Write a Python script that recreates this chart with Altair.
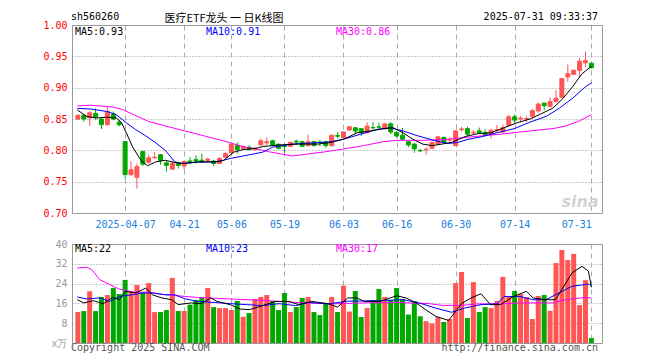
import altair as alt
import pandas as pd
import numpy as np

# ---------------- data (trading-day index 0..87 : 2025-03-25 .. 2025-07-31) ----------------
OPEN = [0.850, 0.856, 0.852, 0.859, 0.850, 0.841, 0.858, 0.845, 0.814, 0.761,
        0.757, 0.798, 0.781, 0.788, 0.793, 0.780, 0.770, 0.780, 0.775, 0.783,
        0.785, 0.7842, 0.784, 0.783, 0.779, 0.789, 0.796, 0.8075, 0.803, 0.805,
        0.801, 0.8086, 0.812, 0.8153, 0.8096, 0.8075, 0.8065, 0.8145, 0.8137, 0.8075,
        0.8137, 0.8132, 0.8137, 0.8075, 0.8236, 0.8205, 0.8324, 0.836, 0.8345, 0.8282,
        0.8365, 0.8376, 0.8345, 0.8422, 0.8282, 0.8241, 0.8137, 0.810, 0.7998, 0.8008,
        0.8034, 0.810, 0.8205, 0.8165, 0.8075, 0.8331, 0.8346, 0.8279, 0.831, 0.8284,
        0.8258, 0.832, 0.8294, 0.8399, 0.8534, 0.850, 0.8498, 0.8545, 0.8628, 0.8754,
        0.8701, 0.878, 0.8847, 0.9171, 0.9213, 0.9276, 0.9396, 0.939]
CLOSE = [0.856, 0.850, 0.860, 0.853, 0.841, 0.862, 0.850, 0.841, 0.7615, 0.769,
         0.774, 0.778, 0.788, 0.789, 0.784, 0.776, 0.779, 0.776, 0.782, 0.781,
         0.783, 0.7816, 0.786, 0.779, 0.787, 0.7946, 0.810, 0.8013, 0.806, 0.8013,
         0.8033, 0.8153, 0.8137, 0.8086, 0.8034, 0.806, 0.8127, 0.8132, 0.8065, 0.8137,
         0.8075, 0.8122, 0.8075, 0.8241, 0.8225, 0.8293, 0.8376, 0.8308, 0.8282, 0.8386,
         0.836, 0.837, 0.8422, 0.8293, 0.823, 0.8179, 0.8086, 0.8023, 0.7992, 0.8018,
         0.8127, 0.8215, 0.8127, 0.8175, 0.831, 0.8341, 0.8258, 0.8289, 0.8284, 0.8242,
         0.832, 0.833, 0.8362, 0.8534, 0.8482, 0.8513, 0.8508, 0.8633, 0.8738, 0.8712,
         0.878, 0.8832, 0.9145, 0.9223, 0.9276, 0.9422, 0.9432, 0.9317]
HIGH = [0.857, 0.857, 0.862, 0.867, 0.851, 0.869, 0.862, 0.849, 0.814, 0.783,
        0.779, 0.799, 0.793, 0.797, 0.794, 0.783, 0.783, 0.781, 0.784, 0.789,
        0.792, 0.7946, 0.788, 0.785, 0.789, 0.797, 0.811, 0.8127, 0.807, 0.808,
        0.805, 0.819, 0.8205, 0.817, 0.811, 0.809, 0.814, 0.8168, 0.815, 0.8251,
        0.815, 0.8163, 0.815, 0.825, 0.8293, 0.830, 0.838, 0.837, 0.835, 0.8448,
        0.8448, 0.8438, 0.843, 0.8448, 0.8308, 0.836, 0.815, 0.811, 0.8023, 0.8049,
        0.8135, 0.8225, 0.822, 0.8205, 0.832, 0.8373, 0.8378, 0.8325, 0.8362, 0.8336,
        0.8346, 0.8404, 0.8414, 0.857, 0.857, 0.8545, 0.8545, 0.866, 0.8764, 0.8756,
        0.8842, 0.8962, 0.915, 0.937, 0.9291, 0.9474, 0.9578, 0.940]
LOW = [0.848, 0.846, 0.839, 0.849, 0.834, 0.839, 0.848, 0.838, 0.755, 0.760,
       0.739, 0.775, 0.779, 0.787, 0.777, 0.766, 0.769, 0.771, 0.769, 0.778,
       0.779, 0.780, 0.781, 0.775, 0.778, 0.788, 0.795, 0.795, 0.801, 0.7995,
       0.800, 0.808, 0.8075, 0.807, 0.8013, 0.796, 0.805, 0.8086, 0.805, 0.806,
       0.8065, 0.8065, 0.804, 0.806, 0.819, 0.819, 0.831, 0.8257, 0.823, 0.827,
       0.8308, 0.8324, 0.833, 0.8257, 0.820, 0.8153, 0.805, 0.7961, 0.797, 0.793,
       0.802, 0.809, 0.811, 0.810, 0.8065, 0.8294, 0.8232, 0.8247, 0.8273, 0.8221,
       0.819, 0.8284, 0.8273, 0.8388, 0.843, 0.8451, 0.8451, 0.8508, 0.8597, 0.8639,
       0.8691, 0.8764, 0.8832, 0.9093, 0.9197, 0.9155, 0.9328, 0.9307]
VOLUME = [12.5, 12.9, 20.9, 12.9, 18.6, 19.4, 22.2, 19.8, 25.5, 20.9,
          23.4, 20.5, 24.2, 12.5, 12.5, 13.3, 26.3, 12.9, 12.9, 15.5,
          17.4, 18.6, 22.2, 14.5, 14.1, 14.1, 13.3, 17.0, 10.6, 12.1,
          17.8, 18.6, 19.4, 17.0, 13.3, 20.2, 12.5, 14.5, 18.2, 18.6,
          12.5, 11.3, 15.8, 18.6, 12.5, 23.2, 12.7, 21.0, 10.5, 14.1,
          17.4, 21.8, 18.6, 17.4, 22.2, 17.8, 11.5, 17.0, 10.8, 8.8,
          7.9, 10.4, 8.5, 9.7, 24.2, 28.7, 10.1, 24.6, 12.5, 14.5,
          14.1, 17.0, 26.7, 19.0, 21.0, 19.8, 18.5, 9.7, 19.0, 19.4,
          13.0, 32.3, 37.6, 33.5, 36.0, 15.3, 25.4, 2.0]

# moving-average lines (x = trading-day index)
PMA5_X = [-0.1, 1.5, 3.2, 4.9, 6.5, 7.4, 8.2, 9.3, 10.7, 11.8, 13.2, 14.8, 16.4, 18.1, 20.3, 23.1,
          24.7, 26.4, 28, 30.2, 31.3, 34.1, 37.4, 40.7, 42.9, 45.1, 47.3, 49.6, 51.8, 53.4, 55.1,
          56.7, 58.4, 60, 61.7, 63.3, 65.6, 67.8, 70, 72.2, 74.4, 76.6, 78.8, 80.5, 82.2, 83.8,
          85.4, 86.8, 87]
PMA5_Y = [0.8645, 0.854, 0.8516, 0.853, 0.8516, 0.844, 0.828, 0.8049, 0.784, 0.7754, 0.7816, 0.7842,
          0.7806, 0.779, 0.7816, 0.7816, 0.784, 0.797, 0.8013, 0.8033, 0.806, 0.8086, 0.81, 0.81,
          0.8127, 0.818, 0.828, 0.831, 0.8345, 0.836, 0.828, 0.818, 0.81, 0.8075, 0.81, 0.8126,
          0.822, 0.8267, 0.828, 0.836, 0.844, 0.85, 0.8597, 0.8675, 0.883, 0.9014, 0.922, 0.9327,
          0.9334]
PMA10_X = [-0.1, 2.1, 4.9, 6.5, 8.2, 9.8, 11.5, 13.1, 14.8, 16.4, 17.3, 20.3, 23.6, 25.8, 28, 31.3,
           33, 36.3, 39.6, 42.9, 45.1, 47.9, 50.7, 52.9, 55.1, 57.3, 59.5, 61.7, 62.8, 64.4, 66.1,
           68.3, 71.1, 73.9, 76.6, 79.4, 81.6, 83.8, 86, 87]
PMA10_Y = [0.867, 0.866, 0.862, 0.857, 0.844, 0.833, 0.823, 0.8127, 0.80, 0.782, 0.779, 0.781,
           0.7816, 0.787, 0.791, 0.797, 0.805, 0.81, 0.8117, 0.8137, 0.818, 0.8257, 0.8334, 0.836,
           0.831, 0.824, 0.818, 0.8127, 0.811, 0.8126, 0.8175, 0.8215, 0.8283, 0.8345, 0.845,
           0.8544, 0.8675, 0.883, 0.9014, 0.9077]
PMA30_X = [-0.1, 2.1, 6, 7.6, 12, 14.8, 18.1, 21.4, 24.7, 25.8, 28, 31.3, 32.5, 36.3, 41.8, 45.1,
           48.4, 51.7, 53.9, 58.3, 62, 66.7, 71.6, 76.6, 80.5, 82.7, 84.9, 87]
PMA30_Y = [0.871, 0.872, 0.869, 0.865, 0.846, 0.839, 0.831, 0.823, 0.815, 0.812, 0.806, 0.80,
           0.7975, 0.791, 0.7975, 0.8023, 0.8075, 0.8137, 0.816, 0.816, 0.817, 0.8216, 0.8258,
           0.831, 0.8347, 0.839, 0.8466, 0.857]

VMA5_X = [-0.1, 1, 2.6, 4.3, 5.9, 7, 8.1, 9.8, 11.5, 12.6, 14.2, 15.9, 17, 19.2, 20.9, 22.5, 23.6,
          25.8, 27.5, 29.1, 31.3, 33.5, 35.8, 37.4, 39.6, 42.4, 44, 45.7, 47.3, 48.5, 51.2, 54,
          55.6, 57.3, 58.9, 60.6, 62.8, 65, 66.6, 68.3, 69.9, 71.6, 73.8, 76, 77.1, 79.3, 80.9,
          82, 83.7, 85.4, 86.5, 87]
VMA5_Y = [17.5, 16.2, 17.1, 15.9, 18.4, 17.5, 20.9, 20.2, 22.2, 19.5, 18.2, 17.5, 15.5, 16.2, 15.9,
          18.2, 16.8, 15.5, 13.7, 13.5, 15.1, 16.8, 16.8, 15.5, 16.8, 15.9, 14.5, 18.2, 18.2, 16.8,
          16.8, 19.1, 18.2, 16.2, 13.5, 10.8, 9.1, 15.9, 18.2, 19.9, 15.5, 15.5, 18.8, 20.9, 18.2,
          17.5, 17.5, 21.6, 28.3, 31.0, 29.0, 22.5]
VMA10_X = [-0.1, 1.5, 3.7, 5.4, 7, 9.3, 10.9, 12.6, 14.8, 16.4, 18.1, 20.3, 23.1, 25.8, 28.6, 31.3,
           34.1, 36.9, 39.1, 42.4, 45.7, 51.2, 55.1, 57.8, 60.6, 63.3, 65.5, 68.3, 71, 72.2, 74.9,
           77.1, 79.3, 81.5, 83.7, 86.5, 87]
VMA10_Y = [18.6, 17.8, 18.2, 16.8, 18.8, 19.5, 20.2, 20.2, 19.5, 19.5, 17.9, 16.8, 16.4, 15.9,
           15.5, 15.1, 15.9, 15.1, 16.4, 15.8, 16.9, 17.1, 17.5, 16.2, 14.1, 12.4, 14.1, 15.5, 15.8,
           18.8, 18.8, 17.5, 17.5, 20.2, 22.9, 23.8, 23.2]
VMA30_X = [-0.1, 1.5, 2.4, 3.7, 5.4, 7, 9.3, 12, 14.8, 20.3, 25.8, 31.3, 36.9, 42.9, 48.5, 54, 59.5,
           61.7, 65, 67.7, 71.6, 74.9, 80.4, 82.6, 85.9, 87]
VMA30_Y = [30.3, 30.6, 29.6, 25.6, 23.6, 21.8, 20.6, 20.5, 19.5, 18.4, 17.8, 17.2, 16.4, 15.8, 16.2,
           16.4, 15.9, 15.2, 15.2, 15.8, 15.8, 16.2, 16.2, 17.5, 18.4, 18.2]

TICK_IDX = [8, 18, 26, 35, 45, 54, 64, 74, 87]
TICK_LABELS = ["2025-04-07", "04-21", "05-06", "05-19", "06-03", "06-16", "06-30", "07-14", "07-31"]
PRICE_TICKS = [0.70, 0.75, 0.80, 0.85, 0.90, 0.95, 1.00]
VOL_TICKS = [0, 8, 16, 24, 32, 40]

PRICE_MA_LABELS = ["MA5:0.93", "MA10:0.91", "MA30:0.86"]
VOL_MA_LABELS = ["MA5:22", "MA10:23", "MA30:17"]
CODE = "sh560260"
TITLE = "医疗ETF龙头 一 日K线图"
STAMP = "2025-07-31 09:33:37"
FOOT_LEFT = "Copyright 2025 SINA.COM"
FOOT_RIGHT = "http://finance.sina.com.cn"

# ---------------- styling ----------------
RED = "#ff5555"
GREEN = "#00a800"
MA_COLORS = ["#000000", "#0000ff", "#ff00ff"]
MONO = "DejaVu Sans Mono"
W, HP, HV = 530, 188, 99

df = pd.DataFrame({"idx": list(range(len(CLOSE))), "open": OPEN, "high": HIGH,
                   "low": LOW, "close": CLOSE, "vol": VOLUME})
df["dir"] = np.where(df["close"] >= df["open"], "up", "down")

xscale = alt.Scale(domain=[-0.15, 87.95], nice=False, zero=False)
pscale = alt.Scale(domain=[0.70, 1.00], nice=False, zero=False)
vscale = alt.Scale(domain=[0, 40], nice=False)
dir_scale = alt.Scale(domain=["up", "down"], range=[RED, GREEN])

label_expr = " : ".join(f"datum.value == {i} ? '{l}'" for i, l in zip(TICK_IDX, TICK_LABELS)) + " : ''"

px_axis = alt.Axis(values=TICK_IDX, labelExpr=label_expr, title=None, ticks=False, domain=False,
                   grid=True, gridDash=[5, 4], gridColor="#aaaaaa", labelColor="#1a80e0",
                   labelFont=MONO, labelFontSize=10, labelPadding=6, labelOverlap=False,
                   labelFlush=False,
                   labelAlign={"condition": {"test": "datum.value == 87", "value": "right"},
                               "value": "center"})
py_axis = alt.Axis(values=PRICE_TICKS, format=".2f", title=None, ticks=False, domain=False,
                   grid=True, gridDash=[1, 2], gridColor="#999999", labelColor="#ff0000",
                   labelFont=MONO, labelFontSize=10, labelPadding=5)
vx_axis = alt.Axis(values=TICK_IDX, labels=False, title=None, ticks=False, domain=False,
                   grid=True, gridDash=[5, 4], gridColor="#aaaaaa")
vy_axis = alt.Axis(values=VOL_TICKS, title=None, ticks=False, domain=False, grid=True,
                   gridDash=[1, 2], gridColor="#999999", labelColor="#999999",
                   labelFont=MONO, labelFontSize=10, labelPadding=5,
                   labelExpr="datum.value == 0 ? 'x万' : datum.label")


def txt(s, x, y, color="#000000", align="left", baseline="middle", font=MONO, size=10, **kw):
    return alt.Chart(pd.DataFrame({"t": [s]})).mark_text(
        align=align, baseline=baseline, font=font, fontSize=size, color=color, **kw
    ).encode(x=alt.value(x), y=alt.value(y), text="t:N")


def ma_line(xs, ys, color, yfield_scale, xaxis, yaxis):
    d = pd.DataFrame({"x": xs, "y": ys})
    return alt.Chart(d).mark_line(color=color, strokeWidth=1).encode(
        x=alt.X("x:Q", scale=xscale, axis=xaxis),
        y=alt.Y("y:Q", scale=yfield_scale, axis=yaxis))


# ---------------- price panel ----------------
wick = alt.Chart(df).mark_rule(strokeWidth=1).encode(
    x=alt.X("idx:Q", scale=xscale, axis=px_axis),
    y=alt.Y("low:Q", scale=pscale, axis=py_axis),
    y2="high:Q",
    stroke=alt.Stroke("dir:N", scale=dir_scale, legend=None))
body = alt.Chart(df).mark_bar(size=4, strokeWidth=1).encode(
    x=alt.X("idx:Q", scale=xscale, axis=px_axis),
    y=alt.Y("open:Q", scale=pscale, axis=py_axis),
    y2="close:Q",
    fill=alt.Fill("dir:N", scale=dir_scale, legend=None),
    stroke=alt.Stroke("dir:N", scale=dir_scale, legend=None))

price_layers = [wick, body]
for xs, ys, c in [(PMA30_X, PMA30_Y, MA_COLORS[2]), (PMA10_X, PMA10_Y, MA_COLORS[1]),
                  (PMA5_X, PMA5_Y, MA_COLORS[0])]:
    price_layers.append(ma_line(xs, ys, c, pscale, px_axis, py_axis))

price_layers += [
    txt(PRICE_MA_LABELS[0], 3, 6.5, MA_COLORS[0]),
    txt(PRICE_MA_LABELS[1], 134, 6.5, MA_COLORS[1]),
    txt(PRICE_MA_LABELS[2], 264, 6.5, MA_COLORS[2]),
    txt(CODE, -1, -5, baseline="alphabetic"),
    txt(TITLE, 152, -3.2, align="center", baseline="alphabetic", font="Noto Sans CJK SC", size=11),
    txt(STAMP, 526, -5, align="right", baseline="alphabetic"),
    txt("sina", 508, 177, color="#d2d2d2", align="center", font="DejaVu Sans", size=16,
        fontStyle="italic", fontWeight="bold"),
]
price = alt.layer(*price_layers).properties(width=W, height=HP)

# ---------------- volume panel ----------------
vbars = alt.Chart(df).mark_bar(size=5).encode(
    x=alt.X("idx:Q", scale=xscale, axis=vx_axis),
    y=alt.Y("vol:Q", scale=vscale, axis=vy_axis),
    fill=alt.Fill("dir:N", scale=dir_scale, legend=None))
vol_layers = [vbars]
for xs, ys, c in [(VMA30_X, VMA30_Y, MA_COLORS[2]), (VMA10_X, VMA10_Y, MA_COLORS[1]),
                  (VMA5_X, VMA5_Y, MA_COLORS[0])]:
    vol_layers.append(ma_line(xs, ys, c, vscale, vx_axis, vy_axis))
vol_layers += [
    txt(VOL_MA_LABELS[0], 3, 5, MA_COLORS[0]),
    txt(VOL_MA_LABELS[1], 134, 5, MA_COLORS[1]),
    txt(VOL_MA_LABELS[2], 264, 5, MA_COLORS[2]),
    txt(FOOT_LEFT, -1, HV + 5, "#555555"),
    txt(FOOT_RIGHT, 526, HV + 5, "#555555", align="right"),
]
volume = alt.layer(*vol_layers).properties(width=W, height=HV)

chart = alt.vconcat(price, volume, spacing=8).properties(
    padding={"left": 34, "top": 3, "right": 10, "bottom": 0},
    background="white",
).configure_view(stroke="#999999", strokeWidth=1)

chart.save("out.html", embed_options={"renderer": "svg", "actions": False})
